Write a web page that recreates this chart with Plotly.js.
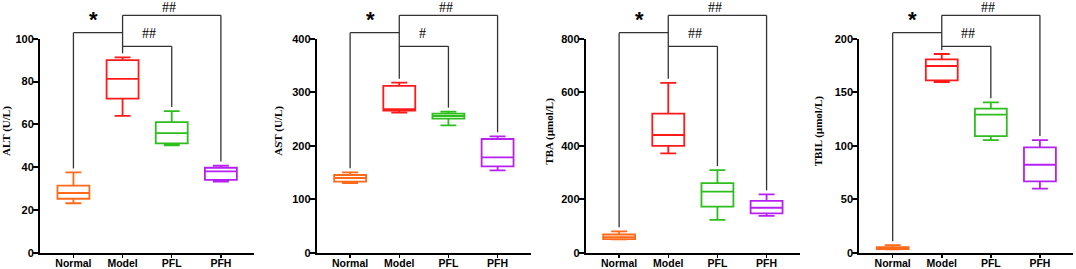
<!DOCTYPE html>
<html><head><meta charset="utf-8">
<script src="https://cdn.plot.ly/plotly-3.0.1.min.js"></script>
<style>html,body{margin:0;padding:0;background:#fff}#chart{width:1076px;height:269px}</style>
</head><body><div id="chart"></div>
<script>
const groups = ['Normal', 'Model', 'PFL', 'PFH'];
const groupColors = ['#FF6A1A', '#FF1A1A', '#2DBE1E', '#B620F2'];
const panelTitles = ['ALT (U/L)', 'AST (U/L)', 'TBA (µmol/L)', 'TBIL (µmol/L)'];
const yMax = [100, 400, 800, 200];
const yStep = [20, 100, 200, 50];

// ALT
const altLower  = [23.1, 63.9, 50.2, 33.2];
const altQ1     = [25.2, 72.0, 51.1, 34.0];
const altMedian = [27.9, 81.2, 55.9, 38.0];
const altQ3     = [31.3, 90.0, 61.0, 39.7];
const altUpper  = [37.5, 91.3, 66.2, 40.7];
// AST
const astLower  = [130.3, 262.0, 238.0, 154.0];
const astQ1     = [132.7, 265.4, 250.5, 161.5];
const astMedian = [139.6, 268.5, 255.5, 178.3];
const astQ3     = [145.2, 312.0, 259.8, 212.5];
const astUpper  = [150.3, 317.8, 263.6, 217.6];
// TBA
const tbaLower  = [50, 371, 123, 138];
const tbaQ1     = [51, 399, 172, 147];
const tbaMedian = [58, 440, 228, 168];
const tbaQ3     = [68, 520, 260, 194];
const tbaUpper  = [80, 635, 309, 218];
// TBIL
const tbilLower  = [3.2, 159.5, 105.3, 59.8];
const tbilQ1     = [3.4, 161.0, 109.0, 66.7];
const tbilMedian = [4.4, 174.5, 129.0, 82.2];
const tbilQ3     = [5.3, 180.7, 134.6, 98.4];
const tbilUpper  = [7.0, 185.7, 140.5, 105.3];

// significance marks: [vs Normal, Model vs PFH, Model vs PFL]
const sigMarks = [
  ['*', '##', '##'],
  ['*', '##', '#'],
  ['*', '##', '##'],
  ['*', '##', '##']
];

const panels = [
  {lower: altLower, q1: altQ1, median: altMedian, q3: altQ3, upper: altUpper},
  {lower: astLower, q1: astQ1, median: astMedian, q3: astQ3, upper: astUpper},
  {lower: tbaLower, q1: tbaQ1, median: tbaMedian, q3: tbaQ3, upper: tbaUpper},
  {lower: tbilLower, q1: tbilQ1, median: tbilMedian, q3: tbilQ3, upper: tbilUpper}
];

const W = 1076, H = 269;
const xPix = [[40, 254.3], [316.7, 531], [585.7, 800], [859.3, 1073.3]];
const titleShift = [-34, -39, -37, -41];
const yDom = [(H - 252.7) / H, (H - 38.7) / H];
const xRange = [-0.68, 3.68];
const plotH = 214;
const gap = 4 / plotH;
const levelTop = 1.109, levelNormal = 1.028, levelPFL = 0.9645;

const sansBold = 'Arial, "Liberation Sans", sans-serif';
const serif = '"Times New Roman", "Liberation Serif", serif';

const data = [];
const layout = {
  width: W, height: H,
  margin: {l: 0, r: 0, t: 0, b: 0},
  paper_bgcolor: '#fff', plot_bgcolor: '#fff',
  showlegend: false, boxmode: 'overlay',
  shapes: [], annotations: []
};

function fx(i) { return (i - xRange[0]) / (xRange[1] - xRange[0]); }

panels.forEach((p, k) => {
  const sx = k === 0 ? '' : String(k + 1);
  const xa = 'x' + sx, ya = 'y' + sx;
  groups.forEach((g, i) => {
    data.push({
      type: 'box', xaxis: xa, yaxis: ya,
      x: [g], q1: [p.q1[i]], median: [p.median[i]], q3: [p.q3[i]],
      lowerfence: [p.lower[i]], upperfence: [p.upper[i]],
      width: 0.65, whiskerwidth: 0.5,
      line: {color: groupColors[i], width: 1.8},
      fillcolor: 'rgba(0,0,0,0)', boxpoints: false, hoverinfo: 'skip'
    });
  });
  layout['xaxis' + sx] = {
    domain: [xPix[k][0] / W, xPix[k][1] / W], anchor: ya,
    type: 'category', categoryarray: groups, range: xRange,
    showline: true, linecolor: '#000', linewidth: 2,
    ticks: 'outside', ticklen: 3, tickwidth: 1.5, tickcolor: '#000',
    ticklabelstandoff: -3,
    showgrid: false, zeroline: false,
    tickfont: {family: sansBold, size: 10.5, color: '#000', weight: 'bold'}
  };
  layout['yaxis' + sx] = {
    domain: yDom, anchor: xa, range: [0, yMax[k]], dtick: yStep[k], tick0: 0,
    showline: true, linecolor: '#000', linewidth: 2,
    ticks: 'outside', ticklen: 5, tickwidth: 2, tickcolor: '#000',
    ticklabelstandoff: -3,
    showgrid: false, zeroline: false,
    tickfont: {family: sansBold, size: 11, color: '#000', weight: 'bold'}
  };
  const xr = xa + ' domain', yr = ya + ' domain';
  const line = {color: '#333', width: 1.3};
  const seg = (x0, y0, x1, y1) => layout.shapes.push({type: 'line', xref: xr, yref: yr, x0, y0, x1, y1, line});
  const top = i => p.upper[i] / yMax[k] + gap;
  seg(fx(0), top(0), fx(0), levelNormal);
  seg(fx(0), levelNormal, fx(1), levelNormal);
  seg(fx(1), top(1), fx(1), levelTop);
  seg(fx(1), levelTop, fx(3), levelTop);
  seg(fx(3), top(3), fx(3), levelTop);
  seg(fx(1), levelPFL, fx(2), levelPFL);
  seg(fx(2), top(2), fx(2), levelPFL);

  const m = sigMarks[k];
  layout.annotations.push(
    {xref: xr, yref: yr, x: fx(0.41), y: 1.09, text: m[0], showarrow: false,
     xanchor: 'center', yanchor: 'middle', font: {family: sansBold, size: 22, color: '#000', weight: 'bold'}},
    {xref: xr, yref: yr, x: fx(1.95), y: 1.1467, text: m[1], showarrow: false,
     xanchor: 'center', yanchor: 'middle', font: {family: serif, size: 14, color: '#000'}},
    {xref: xr, yref: yr, x: fx(k === 1 ? 1.48 : 1.54), y: 1.0252, text: m[2], showarrow: false,
     xanchor: 'center', yanchor: 'middle', font: {family: serif, size: 14, color: '#000'}},
    {xref: xr, yref: 'paper', x: 0, xshift: titleShift[k], y: 0.513, text: panelTitles[k],
     textangle: -90, showarrow: false, xanchor: 'center', yanchor: 'middle',
     font: {family: serif, size: 11, color: '#000', weight: 'bold'}}
  );
});

Plotly.newPlot('chart', data, layout, {staticPlot: true, displayModeBar: false});
</script>
</body></html>
